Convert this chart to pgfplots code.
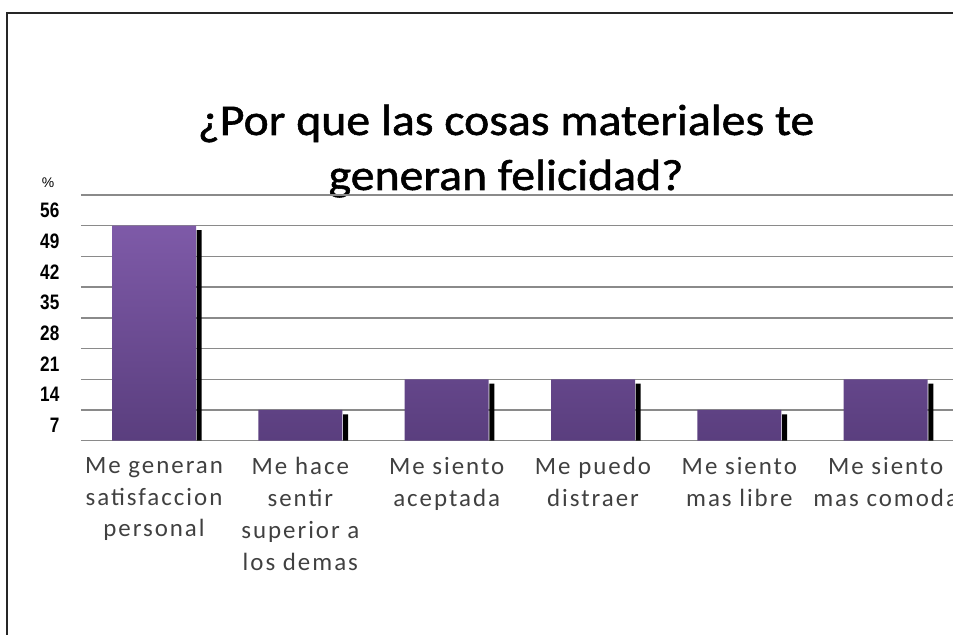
\documentclass[border=0pt]{standalone}
\usepackage{pgfplots}
\pgfplotsset{compat=1.18}
\usepackage{pgfplotstable}
\usepackage{fontspec}
\setmainfont{Carlito}
\newfontfamily\tickfont[FakeStretch=0.82]{Liberation Sans}
\newfontfamily\titlefont[FakeStretch=1.09, FakeBold=1.2]{Carlito}
\newfontfamily\catfont[LetterSpace=8]{Carlito}
\definecolor{barTop}{HTML}{7E5AA8}
\definecolor{barBot}{HTML}{5A3E7E}
\definecolor{gridc}{HTML}{8A8A8A}
\definecolor{catgray}{HTML}{404040}

\pgfplotstableread{
x v
0 49
1 7
2 14
3 14
4 7
5 14
}\datatable

\begin{document}
\begin{tikzpicture}[x=1bp,y=1bp]
\useasboundingbox (0,0) rectangle (953,635);
\begin{scope}
\clip (0,0) rectangle (953,635);
\draw[line width=1.5bp, black!85] (7,-5) -- (7,622) -- (960,622);
\node[font=\titlefont\fontsize{44}{50}\selectfont, anchor=base] at (506,635-135) {¿Por que las cosas materiales te};
\node[font=\titlefont\fontsize{44}{50}\selectfont, anchor=base] at (506,635-190) {generan felicidad?};
\node[font=\fontspec{Liberation Sans}\fontsize{14}{14}\selectfont] at (48,635-183) {\%};
\begin{axis}[
  at={(154.0bp,194.3bp)}, anchor=origin,
  scale only axis, width=878bp, height=245.7bp,
  xmin=-0.5, xmax=5.5, ymin=0, ymax=56,
  axis x line*=bottom, axis y line*=left,
  axis line style={draw=none},
  major tick length=0, tick style={draw=none},
  /pgf/number format/assume math mode=true,
  ytick={3.5,10.5,17.5,24.5,31.5,38.5,45.5,52.5},
  yticklabels={7,14,21,28,35,42,49,56},
  yticklabel style={font=\tickfont\bfseries\fontsize{21}{21}\selectfont, anchor=east, xshift=-18bp},
  extra y ticks={0,7,14,21,28,35,42,49,56},
  extra y tick labels={},
  extra y tick style={grid=major, major grid style={draw=gridc, line width=1.5bp}},
  xtick={0,1,2,3,4,5},
  xticklabels={{Me generan\\satisfaccion\\personal},{Me hace\\sentir\\superior a\\los demas},{Me siento\\aceptada},{Me puedo\\distraer},{Me siento\\mas libre},{Me siento\\mas comoda}},
  xticklabel style={align=center, font=\catfont\fontsize{25}{32}\selectfont, text=catgray, anchor=north, yshift=-13bp},
  clip=false,
]
\addplot[ybar, bar width=5bp, bar shift=45.2bp, fill=black, draw=none] table[x=x, y expr=\thisrow{v}-1] {\datatable};
\addplot[ybar, bar width=84bp, bar shift=0pt, top color=barTop, bottom color=barBot, draw=none] table[x=x, y=v] {\datatable};
\end{axis}
\end{scope}
\end{tikzpicture}
\end{document}
